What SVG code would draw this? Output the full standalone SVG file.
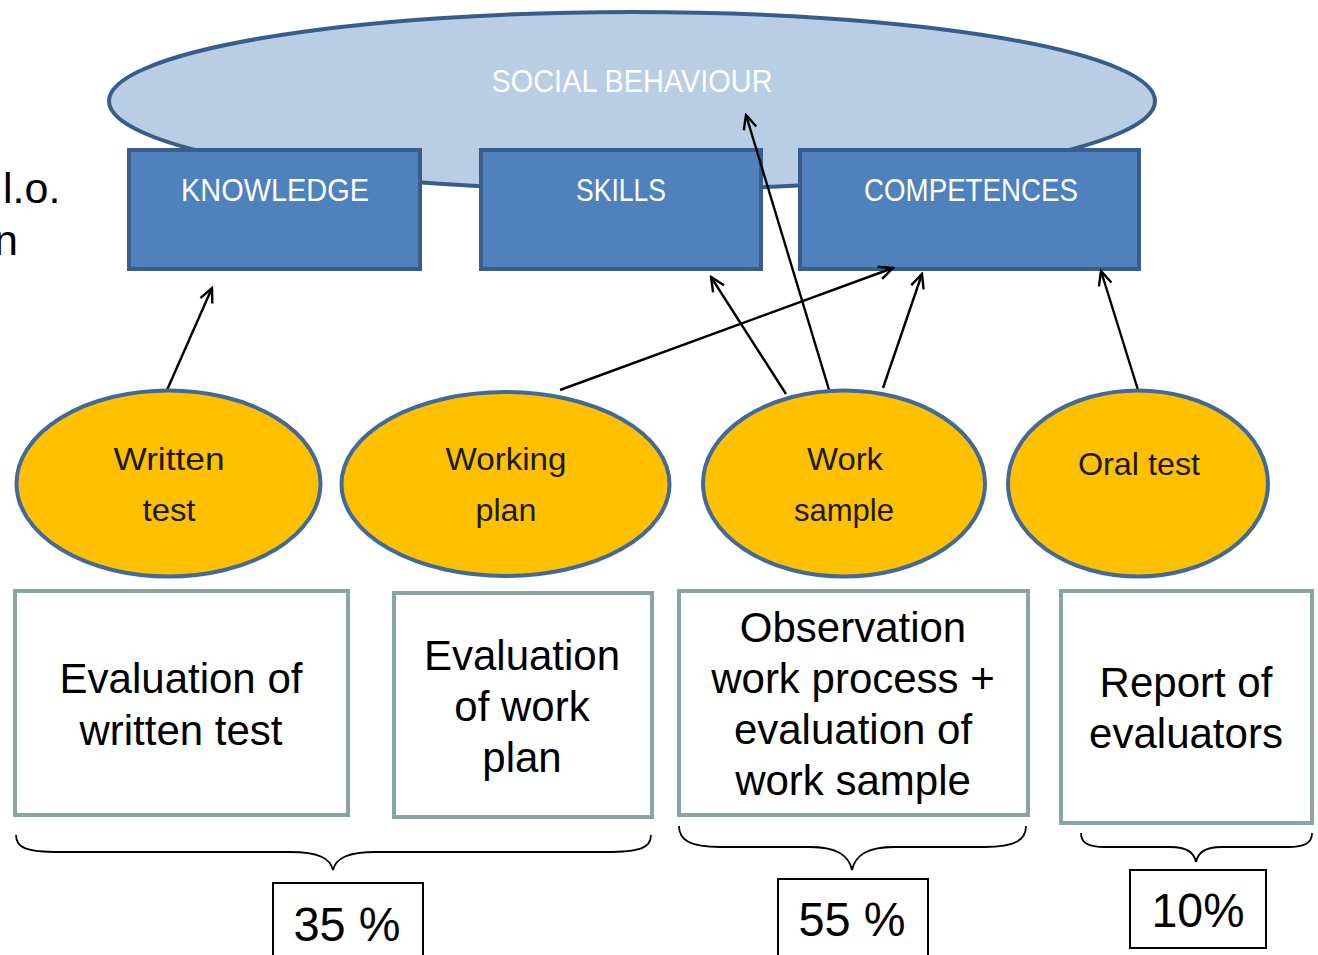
<svg xmlns="http://www.w3.org/2000/svg" width="1318" height="955" viewBox="0 0 1318 955">
<style>
.top{fill:#4f81bd;stroke:#385d8a;stroke-width:4}
.toptxt{fill:#fff;font-family:"Liberation Sans Narrow","Liberation Sans",Arial,sans-serif;font-size:31px;text-anchor:middle}
.oval{fill:#ffc000;stroke:#41699a;stroke-width:4}
.ovtxt{fill:#1a1a1a;font-family:"Liberation Sans Narrow","Liberation Sans",Arial,sans-serif;font-size:32px;text-anchor:middle}
.box{fill:#fff;stroke:#8aa3a4;stroke-width:4}
.btxt{fill:#000;font-family:"Liberation Sans",Arial,sans-serif;font-size:42px;text-anchor:middle}
.pbox{fill:#fff;stroke:#000;stroke-width:2}
.ptxt{fill:#000;font-family:"Liberation Sans",Arial,sans-serif;font-size:48px;text-anchor:middle}
.conn{stroke:#000;stroke-width:2.4;fill:none;marker-end:url(#ah)}
.brace{stroke:#000;stroke-width:1.8;fill:none}
.side{fill:#000;font-family:"Liberation Sans",Arial,sans-serif;font-size:43px}
</style>
<defs>
<marker id="ah" markerWidth="18" markerHeight="16" refX="16" refY="8" orient="auto" markerUnits="userSpaceOnUse">
<path d="M2,1.5 L16,8 L2,14.5" fill="none" stroke="#000" stroke-width="2.4"/>
</marker>
</defs>
<rect width="1318" height="955" fill="#fff"/>
<g id="side-text">
<text class="side" x="3" y="203">l.o.</text>
<text class="side" x="-6" y="255">n</text>
</g>
<g id="social-behaviour">
<ellipse cx="632" cy="101" rx="523" ry="89" fill="#b9cde4" stroke="#385d8a" stroke-width="4"/>
<text class="toptxt" x="632" y="92" textLength="281" lengthAdjust="spacingAndGlyphs">SOCIAL BEHAVIOUR</text>
</g>
<g id="knowledge">
<rect class="top" x="129" y="150" width="291" height="119"/>
<text class="toptxt" x="275" y="201" textLength="188" lengthAdjust="spacingAndGlyphs">KNOWLEDGE</text>
</g>
<g id="skills">
<rect class="top" x="481" y="150" width="280" height="119"/>
<text class="toptxt" x="621" y="201" textLength="90" lengthAdjust="spacingAndGlyphs">SKILLS</text>
</g>
<g id="competences">
<rect class="top" x="800" y="150" width="339" height="119"/>
<text class="toptxt" x="971" y="201" textLength="214" lengthAdjust="spacingAndGlyphs">COMPETENCES</text>
</g>
<g id="connectors">
<line class="conn" x1="167" y1="390" x2="212" y2="288"/>
<line class="conn" x1="560" y1="390" x2="893" y2="268"/>
<line class="conn" x1="786" y1="394" x2="711" y2="277"/>
<line class="conn" x1="830" y1="393" x2="746" y2="115"/>
<line class="conn" x1="883" y1="388" x2="922" y2="274"/>
<line class="conn" x1="1138" y1="390" x2="1101" y2="271"/>
</g>
<g id="written-test">
<ellipse class="oval" cx="168.5" cy="483.5" rx="152" ry="93"/>
<text class="ovtxt" x="169" y="470" textLength="111" lengthAdjust="spacingAndGlyphs">Written</text>
<text class="ovtxt" x="169" y="521" textLength="53" lengthAdjust="spacingAndGlyphs">test</text>
</g>
<g id="working-plan">
<ellipse class="oval" cx="505.5" cy="484" rx="164" ry="92"/>
<text class="ovtxt" x="506" y="470" textLength="121" lengthAdjust="spacingAndGlyphs">Working</text>
<text class="ovtxt" x="506" y="521" textLength="61" lengthAdjust="spacingAndGlyphs">plan</text>
</g>
<g id="work-sample">
<ellipse class="oval" cx="844" cy="483.5" rx="141" ry="93"/>
<text class="ovtxt" x="845" y="470" textLength="76" lengthAdjust="spacingAndGlyphs">Work</text>
<text class="ovtxt" x="844" y="521" textLength="100" lengthAdjust="spacingAndGlyphs">sample</text>
</g>
<g id="oral-test">
<ellipse class="oval" cx="1138" cy="483.5" rx="130" ry="93"/>
<text class="ovtxt" x="1139" y="475" textLength="122" lengthAdjust="spacingAndGlyphs">Oral test</text>
</g>
<g id="eval-written">
<rect class="box" x="15" y="591" width="333" height="224"/>
<text class="btxt" x="181" y="693">Evaluation of</text>
<text class="btxt" x="181" y="745">written test</text>
</g>
<g id="eval-plan">
<rect class="box" x="394" y="593" width="258" height="224"/>
<text class="btxt" x="522" y="670">Evaluation</text>
<text class="btxt" x="522" y="721">of work</text>
<text class="btxt" x="522" y="772">plan</text>
</g>
<g id="observation">
<rect class="box" x="679" y="591" width="349" height="224"/>
<text class="btxt" x="853" y="642">Observation</text>
<text class="btxt" x="853" y="693">work process +</text>
<text class="btxt" x="853" y="744">evaluation of</text>
<text class="btxt" x="853" y="795">work sample</text>
</g>
<g id="report">
<rect class="box" x="1061" y="591" width="251" height="232"/>
<text class="btxt" x="1186" y="697">Report of</text>
<text class="btxt" x="1186" y="748">evaluators</text>
</g>
<g id="braces">
<path class="brace" d="M16,835 C16,848 26,852 60,852 L290,852 C318,852 330,858 333,870 C336,858 348,852 376,852 L606,852 C640,852 651,848 651,835"/>
<path class="brace" d="M679,826 C679,840 690,847 720,847 L810,847 C838,847 849,856 852,870 C855,856 866,847 894,847 L985,847 C1015,847 1026,840 1026,826"/>
<path class="brace" d="M1081,833 C1081,843 1088,847 1105,847 L1170,847 C1188,847 1194,853 1196,862 C1198,853 1204,847 1222,847 L1288,847 C1305,847 1312,843 1312,833"/>
</g>
<g id="pct-35">
<rect class="pbox" x="273" y="883" width="150" height="80"/>
<text class="ptxt" x="347" y="941" textLength="107" lengthAdjust="spacingAndGlyphs">35 %</text>
</g>
<g id="pct-55">
<rect class="pbox" x="778" y="879" width="150" height="84"/>
<text class="ptxt" x="852" y="936" textLength="107" lengthAdjust="spacingAndGlyphs">55 %</text>
</g>
<g id="pct-10">
<rect class="pbox" x="1130" y="870" width="136" height="78"/>
<text class="ptxt" x="1198" y="927" textLength="93" lengthAdjust="spacingAndGlyphs">10%</text>
</g>
</svg>
